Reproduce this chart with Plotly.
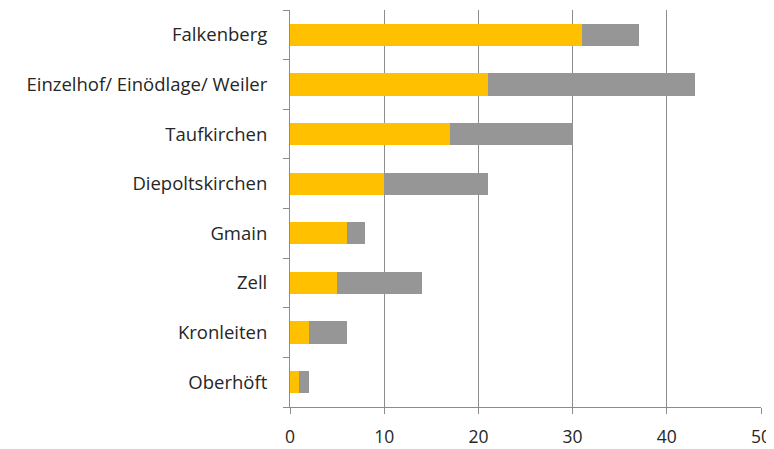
import plotly.graph_objects as go

categories = ["Falkenberg", "Einzelhof/ Einödlage/ Weiler", "Taufkirchen", "Diepoltskirchen",
              "Gmain", "Zell", "Kronleiten", "Oberhöft"]
series_a = [31, 21, 17, 10, 6, 5, 2, 1]
series_b = [6, 22, 13, 11, 2, 9, 4, 1]
x_ticks = [0, 10, 20, 30, 40, 50]

cats = categories[::-1]
fig = go.Figure()
fig.add_trace(go.Bar(y=cats, x=series_a[::-1], orientation="h", marker_color="#FFC000",
                     marker_line_width=0, name="A"))
fig.add_trace(go.Bar(y=cats, x=series_b[::-1], orientation="h", marker_color="#969696",
                     marker_line_width=0, name="B"))

fig.update_layout(
    barmode="stack", bargap=0.55, width=766, height=441,
    margin=dict(l=282, r=13, t=2, b=42, autoexpand=False),
    plot_bgcolor="white", paper_bgcolor="white", showlegend=False,
    font=dict(family="Open Sans", size=18.5, color="#262626"),
)
fig.update_xaxes(range=[0, 50], tickvals=x_ticks, showgrid=True, gridcolor="#8C8C8C", gridwidth=1,
                 showline=True, linecolor="#8C8C8C", ticks="outside", ticklen=6, tickcolor="#8C8C8C",
                 zeroline=False, automargin=False, ticklabelstandoff=8, tickfont=dict(size=17.5))
fig.update_yaxes(showline=True, linecolor="#8C8C8C", ticks="outside", ticklen=6, tickcolor="#8C8C8C",
                 tickson="boundaries", showgrid=False, ticklabelstandoff=18, automargin=False)
fig.write_html("out.html")
